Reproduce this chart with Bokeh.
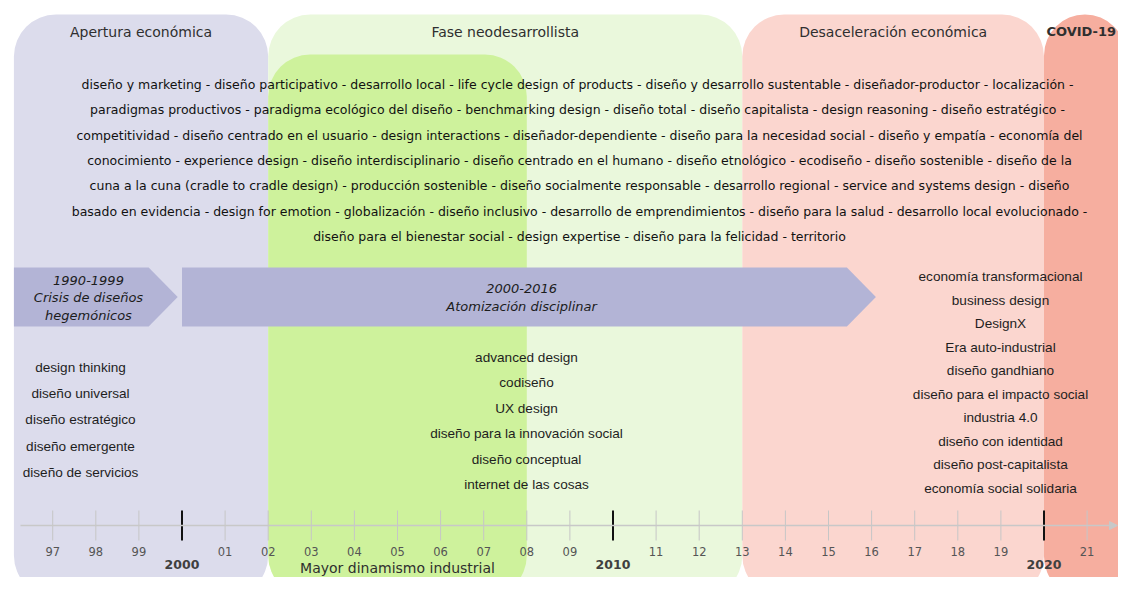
from bokeh.plotting import figure
from bokeh.models import Range1d, BoxAnnotation, Arrow, NormalHead
from bokeh.core.properties import value
from bokeh.embed import file_html
from bokeh.resources import INLINE

# ---------------- data ----------------
era_names = ["Apertura económica", "Fase neodesarrollista",
             "Desaceleración económica", "COVID-19"]
era_start = [1996.1, 2002.0, 2013.0, 2020.0]
era_end = [2002.0, 2013.0, 2020.0, 2021.9]

sub_era_name = "Mayor dinamismo industrial"
sub_era_start = 2002.0
sub_era_end = 2008.0

period_lines = [["1990-1999", "Crisis de diseños", "hegemónicos"],
                ["2000-2016", "Atomización disciplinar"]]
period_start = [1996.1, 2000.0]
period_end = [1999.9, 2016.1]

concept_lines = [
    "diseño y marketing - diseño participativo - desarrollo local - life cycle design of products - diseño y desarrollo sustentable  - diseñador-productor - localización -",
    "paradigmas productivos - paradigma ecológico del diseño - benchmarking design - diseño total - diseño capitalista  - design reasoning - diseño estratégico -",
    "competitividad - diseño centrado en el usuario - design interactions - diseñador-dependiente - diseño para la necesidad social - diseño y empatía - economía del",
    "conocimiento - experience design - diseño interdisciplinario - diseño centrado en el humano - diseño etnológico - ecodiseño - diseño sostenible - diseño de la",
    "cuna a la cuna (cradle to cradle design) - producción sostenible - diseño socialmente responsable - desarrollo regional - service and systems design - diseño",
    "basado en evidencia - design for emotion - globalización - diseño inclusivo - desarrollo de emprendimientos - diseño para la salud - desarrollo local evolucionado -",
    "diseño para el bienestar social - design expertise - diseño para la felicidad - territorio",
]

terms_1990s = ["design thinking", "diseño universal", "diseño estratégico",
               "diseño emergente", "diseño de servicios"]
terms_2000s = ["advanced design", "codiseño", "UX design",
               "diseño para la innovación social", "diseño conceptual",
               "internet de las cosas"]
terms_2010s = ["economía transformacional", "business design", "DesignX",
               "Era auto-industrial", "diseño gandhiano",
               "diseño para el impacto social", "industria 4.0",
               "diseño con identidad", "diseño post-capitalista",
               "economía social solidaria"]

minor_years = [1997, 1998, 1999, 2001, 2002, 2003, 2004, 2005, 2006, 2007,
               2008, 2009, 2011, 2012, 2013, 2014, 2015, 2016, 2017, 2018,
               2019, 2021]
minor_labels = ["97", "98", "99", "01", "02", "03", "04", "05", "06", "07",
                "08", "09", "11", "12", "13", "14", "15", "16", "17", "18",
                "19", "21"]
decade_years = [2000, 2010, 2020]
decade_labels = ["2000", "2010", "2020"]

# ---------------- layout ----------------
W, H = 1118, 577
PX_PER_YEAR = 43.1
X2000 = 181.5          # pixel x of year 2000
REF_H = 593


def ry(v):
    """pixel y (from top) -> plot y (upwards)"""
    return REF_H - v


def yx(px):
    """pixel x -> year"""
    return 2000 + (px - X2000) / PX_PER_YEAR


x_max = yx(W)
p = figure(width=W, height=H, output_backend="svg", toolbar_location=None,
           x_range=Range1d(yx(0), x_max),
           y_range=Range1d(ry(H), ry(0)),
           x_axis_location=None, y_axis_location=None,
           min_border=0, outline_line_color=None,
           background_fill_color="white", border_fill_color="white")
p.grid.visible = False

era_colors = ["#dcdcec", "#eaf8dc", "#fbd6cf", "#f6ae9f"]
sans = value("DejaVu Sans")
arial = value("Liberation Sans")

TOP, BOTTOM = 14, 597
boxes = []
for s, e, c in zip(era_start, era_end, era_colors):
    boxes.append(BoxAnnotation(left=s, right=e, top=ry(TOP), bottom=ry(BOTTOM),
                               fill_color=c, fill_alpha=1.0, line_color=None,
                               border_radius=42, level="underlay"))
sub = BoxAnnotation(left=sub_era_start, right=sub_era_end, top=ry(54),
                    bottom=ry(BOTTOM), fill_color="#cef29c", fill_alpha=1.0,
                    line_color=None, border_radius=42, level="underlay")
boxes.insert(2, sub)
for b in boxes:
    p.add_layout(b)

# era titles (centred on the visible part of each band)
title_x = [(s + min(e, x_max)) / 2 for s, e in zip(era_start, era_end)]
p.text(x=title_x[:3], y=[ry(31)] * 3, text=era_names[:3],
       text_font=sans, text_font_size="14px", text_color="#2f2f2f",
       text_align="center", text_baseline="middle")
p.text(x=title_x[3:], y=[ry(31)], text=era_names[3:],
       text_font=sans, text_font_style="bold", text_font_size="13px",
       text_color="#2f2f2f", text_align="center", text_baseline="middle")
p.text(x=[(sub_era_start + sub_era_end) / 2], y=[ry(567)], text=[sub_era_name],
       text_font=sans, text_font_size="14px", text_color="#2f2f2f",
       text_align="center", text_baseline="middle")

# concept block
cx = yx(579)
p.text(x=[cx] * len(concept_lines),
       y=[ry(84 + 25.3 * i) for i in range(len(concept_lines))],
       text=concept_lines, text_font=sans, text_font_size="12.5px",
       text_color="#111111", text_align="center", text_baseline="middle")

# period arrows
TIP = 29 / PX_PER_YEAR
a_top, a_bot = 267, 326
xs, ys = [], []
for s, e in zip(period_start, period_end):
    xs.append([s, e - TIP, e, e - TIP, s])
    ys.append([ry(a_top), ry(a_top), ry((a_top + a_bot) / 2), ry(a_bot), ry(a_bot)])
p.patches(xs=xs, ys=ys, fill_color="#b3b4d6", line_color=None)

for s, e, lines in zip(period_start, period_end, period_lines):
    mx = (s + e) / 2 - 0.17
    n = len(lines)
    mid = (a_top + a_bot) / 2 + 0.5
    ys_t = [ry(mid + (i - (n - 1) / 2) * 17.5) for i in range(n)]
    p.text(x=[mx] * n, y=ys_t, text=lines, text_font=sans,
           text_font_style="italic", text_font_size="13px", text_color="#1c1c1c",
           text_align="center", text_baseline="middle")


# term lists
def term_list(terms, cx_px, y0, step):
    p.text(x=[yx(cx_px)] * len(terms),
           y=[ry(y0 + step * i) for i in range(len(terms))], text=terms,
           text_font=arial, text_font_size="13.6px", text_color="#1e1e1e",
           text_align="center", text_baseline="middle")


term_list(terms_1990s, 80, 367, 26.2)
term_list(terms_2000s, 526, 357, 25.4)
term_list(terms_2010s, 1000, 276, 23.5)

# time axis
AX_Y = 525
p.add_layout(Arrow(end=NormalHead(size=8, fill_color="#c8c8c8", line_color="#c8c8c8"),
                   x_start=yx(20), y_start=ry(AX_Y),
                   x_end=yx(1117), y_end=ry(AX_Y),
                   line_color="#c8c8c8", line_width=1.5))
p.segment(x0=minor_years, y0=[ry(510)] * len(minor_years),
          x1=minor_years, y1=[ry(540)] * len(minor_years),
          line_color="#c6c6c6", line_width=1)
p.segment(x0=decade_years, y0=[ry(510)] * len(decade_years),
          x1=decade_years, y1=[ry(540)] * len(decade_years),
          line_color="#111111", line_width=2)
p.text(x=minor_years, y=[ry(551)] * len(minor_years), text=minor_labels,
       text_font=sans, text_font_size="11.5px", text_color="#555555",
       text_align="center", text_baseline="middle")
p.text(x=decade_years, y=[ry(564)] * len(decade_years), text=decade_labels,
       text_font=sans, text_font_style="bold", text_font_size="12.5px",
       text_color="#404040", text_align="center", text_baseline="middle")

open("out.html", "w").write(file_html(p, INLINE))
